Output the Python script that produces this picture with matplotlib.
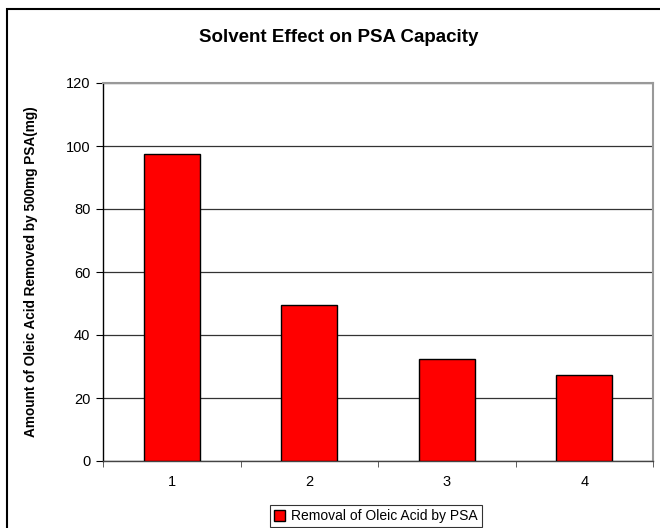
import numpy as np
import matplotlib
matplotlib.use("Agg")
import matplotlib.pyplot as plt
from matplotlib.patches import Rectangle

plt.rcParams['font.family'] = ['Liberation Sans', 'DejaVu Sans']

# data
categories = ['1', '2', '3', '4']
removed = [97.4, 49.5, 32.3, 27.3]
yticks = [0, 20, 40, 60, 80, 100, 120]

fig = plt.figure(figsize=(6.6, 5.28), dpi=100)
ax = fig.add_axes([103/660, 67/528, 550/660, 378/528])

x = np.arange(len(categories))
ax.bar(x, removed, width=0.41, color='#ff0000', edgecolor='black', linewidth=1.0,
       label='Removal of Oleic Acid by PSA', zorder=3)

ax.set_xlim(-0.5, len(categories) - 0.5)
ax.set_ylim(0, 120)
ax.set_yticks(yticks)
ax.set_xticks(x)
ax.set_xticklabels(categories)
ax.set_xticks(np.arange(-0.5, len(categories)), minor=True)
ax.tick_params(axis='x', which='major', length=0, pad=10, labelsize=10.5)
ax.tick_params(axis='x', which='minor', length=4, direction='out', color='#444')
ax.tick_params(axis='y', length=5, direction='out', labelsize=10.5, pad=4)

ax.grid(axis='y', color='#333333', linewidth=0.9, zorder=0)
ax.spines['top'].set_color('#999999')
ax.spines['right'].set_color('#999999')
ax.spines['top'].set_linewidth(1.5)
ax.spines['right'].set_linewidth(1.5)
ax.spines['left'].set_linewidth(1.0)
ax.spines['bottom'].set_color('#444444')
ax.spines['bottom'].set_linewidth(1.0)

ax.set_ylabel('Amount of Oleic Acid Removed by 500mg PSA(mg)', fontsize=9.8,
              fontweight='bold', labelpad=20)
fig.text(339/660, 1 - 37/528, 'Solvent Effect on PSA Capacity', ha='center',
         va='center', fontsize=13.5, fontweight='bold')

leg = fig.legend(loc='upper center', bbox_to_anchor=(376/660, 1 - 505/528),
                 frameon=True, fancybox=False, edgecolor='black', fontsize=10,
                 handlelength=0.8, handleheight=0.8, handletextpad=0.4,
                 borderpad=0.3, borderaxespad=0)
leg.get_frame().set_linewidth(0.8)

# outer chart border
fig.patches.append(Rectangle((7/660, -0.1), 1.2, 1 - 9/528 + 0.1,
                             transform=fig.transFigure, fill=False,
                             edgecolor='black', linewidth=1.5))

fig.savefig('out.png', dpi=100)
